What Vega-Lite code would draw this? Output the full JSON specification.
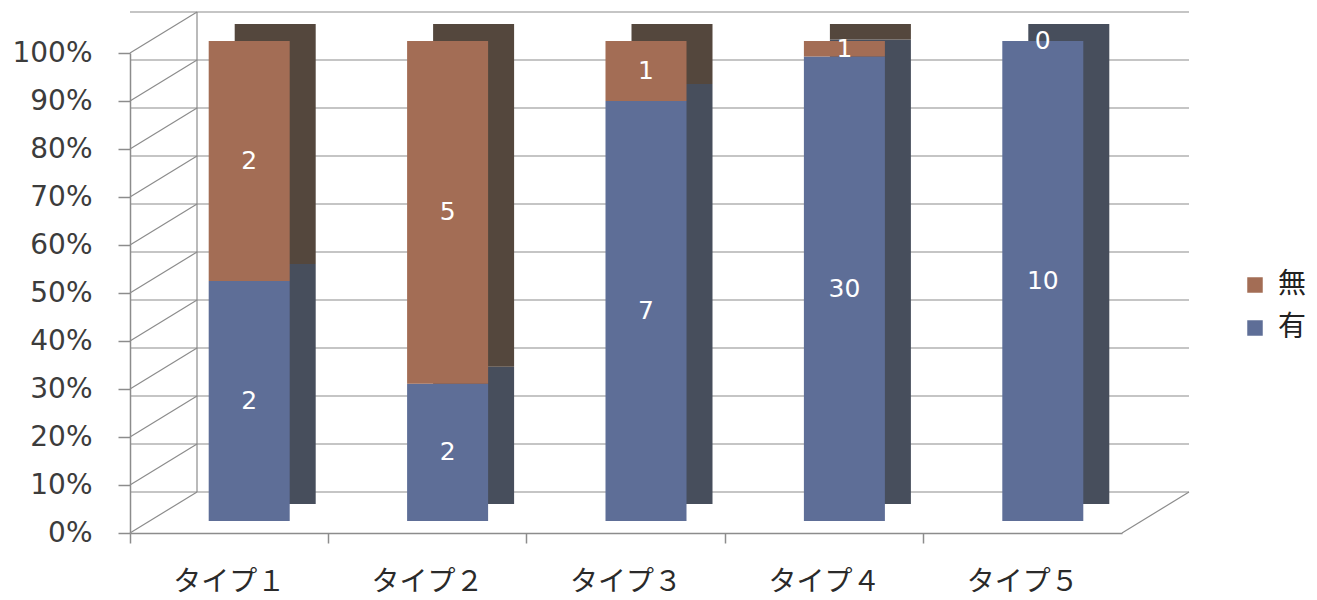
{
  "$schema": "https://vega.github.io/schema/vega-lite/v6.json",
  "width": 992,
  "height": 480,
  "autosize": "none",
  "padding": {"left": 130, "top": 53, "right": 195, "bottom": 67},
  "background": "white",
  "config": {"view": {"stroke": null}},
  "datasets": {
    "counts": [
      {"type": "タイプ１", "series": "有", "n": 2},
      {"type": "タイプ１", "series": "無", "n": 2},
      {"type": "タイプ２", "series": "有", "n": 2},
      {"type": "タイプ２", "series": "無", "n": 5},
      {"type": "タイプ３", "series": "有", "n": 7},
      {"type": "タイプ３", "series": "無", "n": 1},
      {"type": "タイプ４", "series": "有", "n": 30},
      {"type": "タイプ４", "series": "無", "n": 1},
      {"type": "タイプ５", "series": "有", "n": 10},
      {"type": "タイプ５", "series": "無", "n": 0}
    ],
    "grid": [
      {"g": 0}, {"g": 0.1}, {"g": 0.2}, {"g": 0.3}, {"g": 0.4}, {"g": 0.5},
      {"g": 0.6}, {"g": 0.7}, {"g": 0.8}, {"g": 0.9}, {"g": 1}
    ]
  },
  "resolve": {"scale": {"color": "independent"}},
  "layer": [
    {
      "data": {"name": "grid"},
      "mark": {"type": "rule", "color": "#8c8c8c", "strokeWidth": 1.2, "xOffset": 67, "yOffset": -41},
      "encoding": {
        "y": {"field": "g", "type": "quantitative", "scale": {"domain": [0, 1]}}
      }
    },
    {
      "data": {"name": "grid"},
      "mark": {"type": "rule", "color": "#8c8c8c", "strokeWidth": 1.2, "x2Offset": 67, "y2Offset": -41},
      "encoding": {
        "x": {"datum": "タイプ１", "type": "nominal", "bandPosition": 0},
        "x2": {"datum": "タイプ１", "bandPosition": 0},
        "y": {"field": "g", "type": "quantitative"},
        "y2": {"field": "g"}
      }
    },
    {
      "data": {"name": "grid"},
      "mark": {"type": "rule", "color": "#8c8c8c", "strokeWidth": 1.2, "xOffset": 67, "yOffset": -41, "y2Offset": -41},
      "encoding": {
        "x": {"datum": "タイプ１", "type": "nominal", "bandPosition": 0},
        "y": {"aggregate": "min", "field": "g", "type": "quantitative"},
        "y2": {"aggregate": "max", "field": "g"}
      }
    },
    {
      "data": {"name": "grid"},
      "transform": [{"filter": "datum.g == 0"}],
      "mark": {"type": "rule", "color": "#8c8c8c", "strokeWidth": 1.2, "x2Offset": 67, "y2Offset": -41},
      "encoding": {
        "x": {"datum": "タイプ５", "type": "nominal", "bandPosition": 1},
        "x2": {"datum": "タイプ５", "bandPosition": 1},
        "y": {"field": "g", "type": "quantitative"},
        "y2": {"field": "g"}
      }
    },
    {
      "data": {"name": "counts"},
      "mark": {"type": "bar", "width": 81, "xOffset": 46, "yOffset": -29},
      "encoding": {
        "x": {"field": "type", "type": "nominal"},
        "y": {"field": "n", "type": "quantitative", "stack": "normalize"},
        "order": {"field": "series", "sort": "ascending"},
        "color": {"field": "series", "type": "nominal", "legend": null,
          "scale": {"domain": ["無", "有"], "range": ["#54473d", "#474e5c"]}}
      }
    },
    {
      "data": {"name": "counts"},
      "mark": {"type": "bar", "width": 81, "xOffset": 20, "yOffset": -12},
      "encoding": {
        "x": {
          "field": "type", "type": "nominal",
          "scale": {"paddingInner": 0, "paddingOuter": 0},
          "axis": {
            "title": null, "labelAngle": 0, "bandPosition": 0, "labelAlign": "center",
            "labelFont": "Noto Sans CJK JP", "labelFontSize": 28, "labelColor": "#2a2a2a",
            "labelPadding": 39, "tickSize": 10, "tickColor": "#8c8c8c", "domainColor": "#8c8c8c",
            "domainWidth": 1.5, "tickWidth": 1.5, "grid": false
          }
        },
        "y": {
          "field": "n", "type": "quantitative", "stack": "normalize",
          "axis": {
            "title": null, "format": ".0%", "values": [0, 0.1, 0.2, 0.3, 0.4, 0.5, 0.6, 0.7, 0.8, 0.9, 1],
            "labelFont": "DejaVu Sans", "labelFontSize": 28, "labelColor": "#3c3c3c",
            "labelPadding": 26, "tickSize": 12, "tickColor": "#8c8c8c", "domainColor": "#8c8c8c",
            "domainWidth": 1.5, "tickWidth": 1.5, "grid": false
          }
        },
        "order": {"field": "series", "sort": "ascending"},
        "color": {
          "field": "series", "type": "nominal",
          "scale": {"domain": ["無", "有"], "range": ["#a36d55", "#5e6e97"]},
          "legend": {
            "title": null, "orient": "none", "legendX": 1111, "legendY": 218,
            "symbolType": "square", "symbolSize": 240, "symbolStrokeWidth": 0,
            "labelFont": "Noto Sans CJK JP", "labelFontSize": 28, "labelColor": "#222222",
            "labelOffset": 9, "rowPadding": 15
          }
        }
      }
    },
    {
      "data": {"name": "counts"},
      "mark": {"type": "text", "xOffset": 20, "yOffset": -12, "color": "white", "font": "DejaVu Sans", "fontSize": 25},
      "encoding": {
        "x": {"field": "type", "type": "nominal"},
        "y": {"field": "n", "type": "quantitative", "stack": "normalize", "bandPosition": 0.5},
        "order": {"field": "series", "sort": "ascending"},
        "text": {"field": "n", "type": "quantitative"},
        "detail": {"field": "series"}
      }
    }
  ]
}
